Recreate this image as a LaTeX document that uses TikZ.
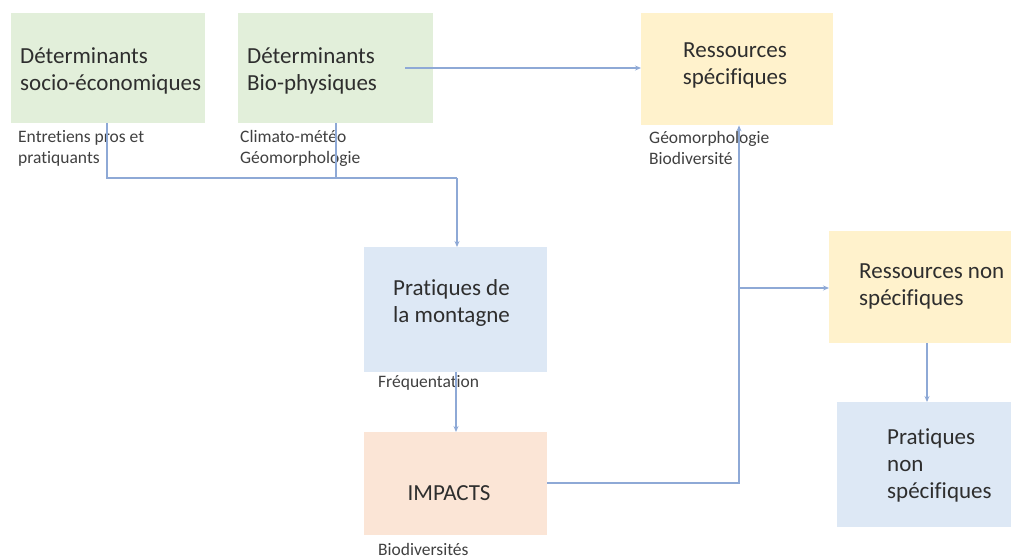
\documentclass[tikz,border=0pt]{standalone}
\usepackage{fontspec}
\setmainfont{Carlito}[Ligatures=NoCommon]
\usetikzlibrary{arrows.meta}
\definecolor{cgreen}{HTML}{E2EFDA}
\definecolor{cyellow}{HTML}{FFF2CC}
\definecolor{cblue}{HTML}{DDE8F5}
\definecolor{corange}{HTML}{FBE5D6}
\definecolor{cline}{HTML}{8EA9D6}
\definecolor{ctitle}{HTML}{2E2E2E}
\definecolor{clabel}{HTML}{404040}
\tikzset{
  boxarea/.style={draw=none, inner sep=0pt, anchor=north west},
  title/.style={anchor=base west, inner sep=0pt, align=left, text=ctitle,
    font=\fontsize{23pt}{27pt}\selectfont},
  note/.style={anchor=base west, inner sep=0pt, align=left, text=clabel,
    font=\fontsize{17.5pt}{21pt}\selectfont},
  conn/.style={draw=cline, line width=1.2pt},
  arr/.style={conn, -{Stealth[length=6pt,width=5pt]}}
}
\begin{document}
\begin{tikzpicture}[x=1pt,y=-1pt]
\useasboundingbox (0,0) rectangle (1011,558);
% boxes
\node[boxarea, fill=cgreen, minimum width=194pt, minimum height=110pt] (b1) at (11,13) {};
\node[boxarea, fill=cgreen, minimum width=195pt, minimum height=110pt] (b2) at (238,13) {};
\node[boxarea, fill=cyellow, minimum width=192pt, minimum height=112pt] (b3) at (641,13) {};
\node[boxarea, fill=cblue, minimum width=183pt, minimum height=125pt] (prat) at (364,247) {};
\node[boxarea, fill=corange, minimum width=183pt, minimum height=103pt] (imp) at (364,432) {};
\node[boxarea, fill=cyellow, minimum width=182pt, minimum height=112pt] (rns) at (829,231) {};
\node[boxarea, fill=cblue, minimum width=174pt, minimum height=125pt] (pns) at (837,402) {};
% titles (anchor = baseline of last line)
\node[title] (t1) at (20,90) {Déterminants\\socio-économiques};
\node[title] (t2) at (247,90) {Déterminants\\Bio-physiques};
\node[title, align=center, anchor=base] (t3) at (735,84) {Ressources\\spécifiques};
\node[title] (t4) at (393,322) {Pratiques de\\la montagne};
\node[title, anchor=base] (t5) at (449,500) {IMPACTS};
\node[title] (t6) at (859,305) {Ressources non\\spécifiques};
\node[title] (t7) at (887,498) {Pratiques\\non\\spécifiques};
% notes
\node[note] (n1) at (18,163) {Entretiens pros et\\pratiquants};
\node[note] (n2) at (240,163) {Climato-météo\\Géomorphologie};
\node[note] (n3) at (649,164) {Géomorphologie\\Biodiversité};
\node[note] (n4) at (378,387) {Fréquentation};
\node[note] (n5) at (378,555) {Biodiversités};
% connector points
\coordinate (j1) at (107,178);
\coordinate (j2) at (336,178);
\coordinate (j3) at (457,178);
\coordinate (a0) at (405,68);
\coordinate (k1) at (739,483);
\coordinate (k2) at (739,288);
% connectors
\draw[conn] (b1.south -| j1) -- (j1) -- (j3);
\draw[conn] (b2.south -| j2) -- (j2);
\draw[arr] (j3) -- (prat.north -| j3);
\draw[arr] (a0) -- (b3.west |- a0);
\draw[arr] (prat.south -| 456,0) -- (imp.north -| 456,0);
\draw[conn] (imp.east |- k1) -- (k1) -- (k2);
\draw[arr] (k2) -- (b3.south -| k2);
\draw[arr] (k2) -- (rns.west |- k2);
\draw[arr] (rns.south -| 927,0) -- (pns.north -| 927,0);
\end{tikzpicture}
\end{document}
